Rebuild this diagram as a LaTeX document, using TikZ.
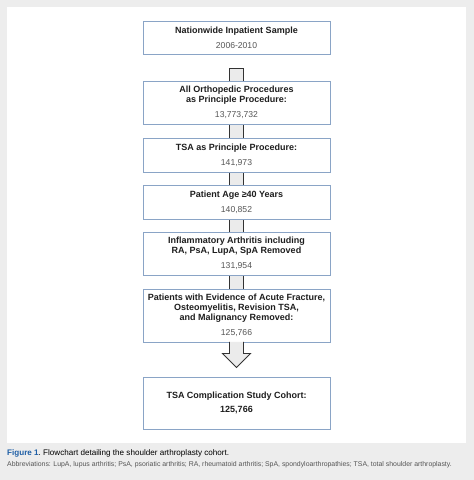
\documentclass[tikz,border=0pt]{standalone}
\usepackage{fontspec}
\setmainfont{Liberation Sans}
\definecolor{outerbg}{HTML}{EDEDED}
\definecolor{boxline}{HTML}{8AA4C6}
\definecolor{stemfill}{HTML}{EBEBEB}
\definecolor{stemline}{HTML}{333333}
\definecolor{numgray}{HTML}{555555}
\definecolor{txtdark}{HTML}{1E1E1E}
\definecolor{figblue}{HTML}{1F5FA6}
\newcommand{\numtxt}[1]{{\mdseries\fontsize{8.6}{10}\selectfont\color{numgray}#1}}
\begin{document}
\begin{tikzpicture}[x=1pt,y=-1pt,
  flowbox/.style={draw=boxline, line width=0.9pt, fill=white, minimum width=187pt,
    inner sep=0pt, align=center, text=txtdark,
    font=\fontsize{9}{10}\selectfont\bfseries},
  stembox/.style={draw=stemline, line width=0.9pt, fill=stemfill}]
\useasboundingbox (0,0) rectangle (474,480);
\fill[outerbg] (0,0) rectangle (474,480);
\fill[white] (7,7) rectangle (466,443);

% stems first (boxes drawn on top)
\coordinate (s1top) at (236.5,68);
\coordinate (s2top) at (236.5,124);
\coordinate (s3top) at (236.5,172);
\coordinate (s4top) at (236.5,219);
\coordinate (s5top) at (236.5,275);
\coordinate (s1bot) at (236.5,81);
\coordinate (s2bot) at (236.5,138);
\coordinate (s3bot) at (236.5,185);
\coordinate (s4bot) at (236.5,232);
\coordinate (s5bot) at (236.5,289);
\foreach \i in {1,...,5}{
  \draw[stembox] ([xshift=-7pt]s\i top) rectangle ([xshift=7pt,yshift=-1pt]s\i bot);
}

\node[flowbox, minimum height=33pt] (b1) at (236.5,37.5)
  {Nationwide Inpatient Sample\\[5pt]\numtxt{2006-2010}};
\node[flowbox, minimum height=43pt] (b2) at (236.5,102.5)
  {All Orthopedic Procedures\\as Principle Procedure:\\[5pt]\numtxt{13,773,732}};
\node[flowbox, minimum height=34pt] (b3) at (236.5,155)
  {TSA as Principle Procedure:\\[5pt]\numtxt{141,973}};
\node[flowbox, minimum height=34pt] (b4) at (236.5,202)
  {Patient Age \char"2265 40 Years\\[5pt]\numtxt{140,852}};
\node[flowbox, minimum height=43pt] (b5) at (236.5,253.5)
  {Inflammatory Arthritis including\\RA, PsA, LupA, SpA Removed\\[5pt]\numtxt{131,954}};
\node[flowbox, minimum height=53pt] (b6) at (236.5,315.5)
  {Patients with Evidence of Acute Fracture,\\Osteomyelitis, Revision TSA,\\and Malignancy Removed:\\[5pt]\numtxt{125,766}};
\node[flowbox, minimum height=52pt] (b7) at (236.5,403)
  {TSA Complication Study Cohort:\\[4pt]125,766};

\coordinate (tip) at ([yshift=9pt]b7.north);
\draw[stembox, line join=miter]
  ([xshift=-7pt,yshift=0.5pt]b6.south) -- ([xshift=-7pt,yshift=-11pt]b6.south)
  -- ([xshift=-14pt,yshift=-11pt]b6.south) -- (tip)
  -- ([xshift=14pt,yshift=-11pt]b6.south) -- ([xshift=7pt,yshift=-11pt]b6.south)
  -- ([xshift=7pt,yshift=0.5pt]b6.south);

\node[anchor=base west, inner sep=0pt, font=\fontsize{8.1}{9}\selectfont] (cap) at (7,455.5)
  {\textcolor{figblue}{\bfseries Figure 1}.\ Flowchart detailing the shoulder arthroplasty cohort.};
\node[anchor=base west, inner sep=0pt, font=\fontsize{6.9}{8}\selectfont, text=numgray] (abbr) at (7,466.5)
  {Abbreviations: LupA, lupus arthritis; PsA, psoriatic arthritis; RA, rheumatoid arthritis; SpA, spondyloarthropathies; TSA, total shoulder arthroplasty.};
\end{tikzpicture}
\end{document}
